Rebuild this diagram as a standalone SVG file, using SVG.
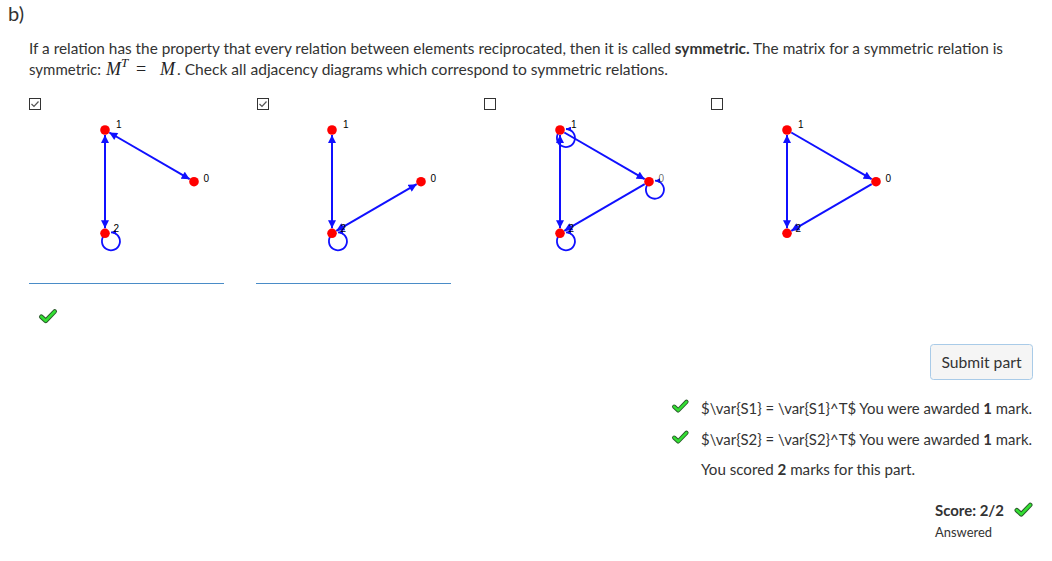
<svg xmlns="http://www.w3.org/2000/svg" width="1052" height="561" viewBox="0 0 1052 561">
<style>
.t{font-family:Lato,"Source Sans Pro","Liberation Sans",sans-serif;font-size:15px;fill:#333}
.b{font-weight:bold}
.m{font-family:"Liberation Serif","DejaVu Serif",serif;font-style:italic;fill:#222}
.lbl{font-family:"Liberation Sans",Arial,sans-serif;font-size:10px;fill:#000}
.node{fill:#ff0000}
.edge{stroke:#1010ff;stroke-width:2;fill:none}
.loop{stroke:#1010ff;stroke-width:1.8;fill:none}
.box{fill:#fff;stroke:#333;stroke-width:1}
.tick{fill:none;stroke:#555;stroke-width:1.2}
.rule{stroke:#4a8cc7;stroke-width:1}
</style>
<defs>
<marker id="ah" viewBox="0 0 10 10" refX="10" refY="5" markerUnits="userSpaceOnUse" markerWidth="9" markerHeight="8" orient="auto-start-reverse">
<path d="M0,0 L10,5 L0,10 z" fill="#1010ff"/>
</marker>
<marker id="lh" viewBox="0 0 10 10" refX="10" refY="5" markerUnits="userSpaceOnUse" markerWidth="6" markerHeight="5" orient="auto">
<path d="M0,0 L10,5 L0,10 z" fill="#1010ff"/>
</marker>
<path id="loopP" d="M -0.4 1.6 A 9 9 0 1 0 6 -1" class="loop" marker-end="url(#lh)"/>
<g id="gchk">
<path d="M1.8 7.2 L6.2 11.3 L15.2 2" fill="none" stroke="#2a5a2a" stroke-width="4.6" stroke-linecap="round" stroke-linejoin="round"/>
<path d="M1.8 7.2 L6.2 11.3 L15.2 2" fill="none" stroke="#33e033" stroke-width="2.6" stroke-linecap="round" stroke-linejoin="round"/>
</g>
</defs>
<rect width="1052" height="561" fill="#fff"/>

<text class="t" x="8" y="21" style="font-size:20px" textLength="16" lengthAdjust="spacingAndGlyphs">b)</text>
<text class="t" x="29" y="53.5" textLength="974" lengthAdjust="spacingAndGlyphs">If a relation has the property that every relation between elements reciprocated, then it is called <tspan class="b">symmetric.</tspan> The matrix for a symmetric relation is</text>
<text class="t" x="29" y="75" textLength="72" lengthAdjust="spacingAndGlyphs">symmetric:</text>
<text class="m" x="106" y="75" font-size="18">M</text>
<text class="m" x="121" y="67" font-size="13">T</text>
<text x="136" y="75" font-size="18" font-family="Liberation Serif,serif" fill="#222">=</text>
<text class="m" x="160" y="75" font-size="18">M</text>
<text class="t" x="177" y="75" textLength="491" lengthAdjust="spacingAndGlyphs">. Check all adjacency diagrams which correspond to symmetric relations.</text>

<!-- checkboxes -->
<g id="cb1"><rect class="box" x="29.5" y="98.5" width="11" height="11"/><polyline class="tick" points="31.5,104 34,106.5 38.5,101.5"/></g>
<g id="cb2"><rect class="box" x="257.5" y="98.5" width="11" height="11"/><polyline class="tick" points="259.5,104 262,106.5 266.5,101.5"/></g>
<g id="cb3"><rect class="box" x="484.5" y="98.5" width="11" height="11"/></g>
<g id="cb4"><rect class="box" x="711.5" y="98.5" width="11" height="11"/></g>

<!-- connectors -->
<g id="connectors">
<g transform="translate(105,130)">
<line class="edge" x1="4.3" y1="2.5" x2="84.7" y2="49.2" marker-start="url(#ah)" marker-end="url(#ah)"/>
<line class="edge" x1="0" y1="5" x2="0" y2="98.3" marker-start="url(#ah)" marker-end="url(#ah)"/>
<use href="#loopP" transform="translate(0,103.3)"/>
</g>
<g transform="translate(332,130)">
<line class="edge" x1="0" y1="5" x2="0" y2="98.3" marker-start="url(#ah)" marker-end="url(#ah)"/>
<line class="edge" x1="4.3" y1="100.8" x2="84.7" y2="54.2" marker-start="url(#ah)" marker-end="url(#ah)"/>
<use href="#loopP" transform="translate(0,103.3)"/>
</g>
<g transform="translate(560,130)">
<line class="edge" x1="4.3" y1="2.5" x2="84.7" y2="49.2" marker-end="url(#ah)"/>
<line class="edge" x1="0" y1="5" x2="0" y2="98.3" marker-start="url(#ah)" marker-end="url(#ah)"/>
<line class="edge" x1="84.7" y1="54.2" x2="4.3" y2="100.8" marker-end="url(#ah)"/>
<use href="#loopP" transform="translate(0,0)"/>
<use href="#loopP" transform="translate(89,51.7)"/>
<use href="#loopP" transform="translate(0,103.3)"/>
</g>
<g transform="translate(787,130)">
<line class="edge" x1="4.3" y1="2.5" x2="84.7" y2="49.2" marker-end="url(#ah)"/>
<line class="edge" x1="0" y1="5" x2="0" y2="98.3" marker-start="url(#ah)" marker-end="url(#ah)"/>
<line class="edge" x1="84.7" y1="54.2" x2="4.3" y2="100.8" marker-end="url(#ah)"/>
</g>
</g>

<!-- nodes -->
<g transform="translate(105,130)">
<g id="d1-n1"><circle class="node" r="4.8"/><text class="lbl" x="11" y="-2">1</text></g>
<g id="d1-n0"><circle class="node" cx="89" cy="51.7" r="4.8"/><text class="lbl" x="98.5" y="51.7">0</text></g>
<g id="d1-n2"><circle class="node" cx="0" cy="103.3" r="4.8"/><text class="lbl" x="8.5" y="102">2</text></g>
</g>
<g transform="translate(332,130)">
<g id="d2-n1"><circle class="node" r="4.8"/><text class="lbl" x="11" y="-2">1</text></g>
<g id="d2-n0"><circle class="node" cx="89" cy="51.7" r="4.8"/><text class="lbl" x="98.5" y="51.7">0</text></g>
<g id="d2-n2"><circle class="node" cx="0" cy="103.3" r="4.8"/><text class="lbl" x="8.5" y="102">2</text></g>
</g>
<g transform="translate(560,130)">
<g id="d3-n1"><circle class="node" r="4.8"/><text class="lbl" x="11" y="-2">1</text></g>
<g id="d3-n0"><circle class="node" cx="89" cy="51.7" r="4.8"/><text class="lbl" x="98.5" y="51.7" fill-opacity="0.6">0</text></g>
<g id="d3-n2"><circle class="node" cx="0" cy="103.3" r="4.8"/><text class="lbl" x="8.5" y="102">2</text></g>
</g>
<g transform="translate(787,130)">
<g id="d4-n1"><circle class="node" r="4.8"/><text class="lbl" x="11" y="-2">1</text></g>
<g id="d4-n0"><circle class="node" cx="89" cy="51.7" r="4.8"/><text class="lbl" x="98.5" y="51.7">0</text></g>
<g id="d4-n2"><circle class="node" cx="0" cy="103.3" r="4.8"/><text class="lbl" x="8.5" y="102">2</text></g>
</g>

<line class="rule" x1="29" y1="283.5" x2="224" y2="283.5"/>
<line class="rule" x1="256" y1="283.5" x2="451" y2="283.5"/>
<use href="#gchk" transform="translate(39.5,309.5)"/>

<g id="submit">
<rect x="930.5" y="344.5" width="102" height="35" rx="3" fill="#f5f5f5" stroke="#a9cbe8"/>
<text class="t" x="941.5" y="368" textLength="80" lengthAdjust="spacingAndGlyphs">Submit part</text>
</g>

<use href="#gchk" transform="translate(672.5,400) scale(0.92)"/>
<text class="t" x="701" y="414" textLength="331" lengthAdjust="spacingAndGlyphs">$\var{S1} = \var{S1}^T$ You were awarded <tspan class="b">1</tspan> mark.</text>
<use href="#gchk" transform="translate(672.5,431) scale(0.92)"/>
<text class="t" x="701" y="445" textLength="331" lengthAdjust="spacingAndGlyphs">$\var{S2} = \var{S2}^T$ You were awarded <tspan class="b">1</tspan> mark.</text>
<text class="t" x="701" y="475" textLength="214" lengthAdjust="spacingAndGlyphs">You scored <tspan class="b">2</tspan> marks for this part.</text>

<text class="t b" x="935" y="516" textLength="69" lengthAdjust="spacingAndGlyphs">Score: 2/2</text>
<use href="#gchk" transform="translate(1015,503)"/>
<text class="t" x="935" y="537" style="font-size:13px" textLength="57" lengthAdjust="spacingAndGlyphs">Answered</text>
</svg>
